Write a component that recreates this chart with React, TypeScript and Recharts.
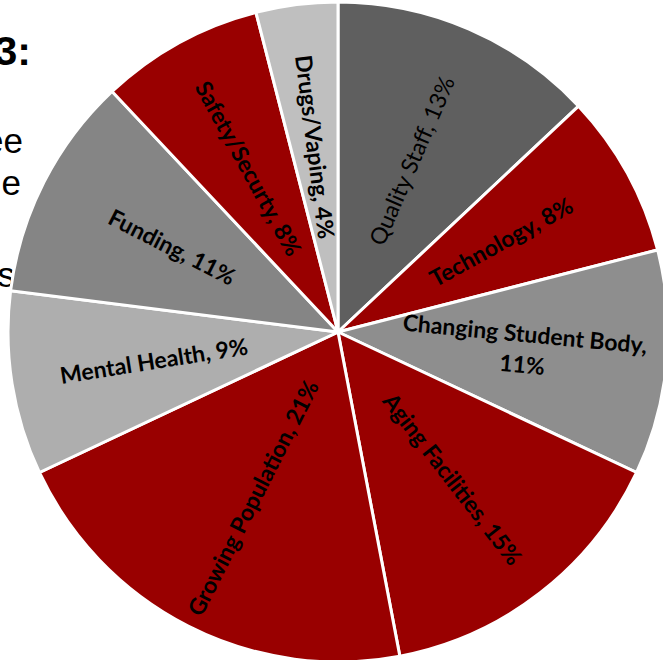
import React from "react";
import { PieChart, Pie, Cell } from "recharts";

const names = [
  "Quality Staff",
  "Technology",
  "Changing Student Body",
  "Aging Facilities",
  "Growing Population",
  "Mental Health",
  "Funding",
  "Safety/Securty",
  "Drugs/Vaping",
];
const values = [13, 8, 11, 15, 21, 9, 11, 8, 4];
const colors = ["#5f5f5f", "#990000", "#8e8e8e", "#990000", "#990000", "#aeaeae", "#858585", "#990000", "#bfbfbf"];

// fragments of slide text peeking out behind the pie
const sideText = [
  { text: "3:", bold: true },
  { text: "ee", bold: false },
  { text: "e", bold: false },
  { text: "s", bold: false },
];

const data = names.map((n, i) => ({ name: n, value: values[i] }));

const RAD = Math.PI / 180;

function renderLabel(props: any) {
  const { cx, cy, midAngle, outerRadius, index } = props;
  const r = outerRadius * 0.565;
  const x = cx + r * Math.cos(-midAngle * RAD);
  const y = cy + r * Math.sin(-midAngle * RAD);
  let rot = -midAngle;
  if (Math.cos(-midAngle * RAD) < 0) rot += 180;
  const name = names[index];
  const pct = `${values[index]}%`;
  const lines = name.length > 20 ? [`${name},`, pct] : [`${name}, ${pct}`];
  const lh = 31;
  return (
    <text
      x={x}
      y={y}
      transform={`rotate(${rot} ${x} ${y})`}
      textAnchor="middle"
      fontFamily="Lato, 'Open Sans', sans-serif"
      fontSize={23}
      fontWeight={index === 0 ? 400 : 700}
      fill="#000"
    >
      {lines.map((l, i) => (
        <tspan key={i} x={x} y={y + (i - (lines.length - 1) / 2) * lh} dy="0.35em">
          {l}
        </tspan>
      ))}
    </text>
  );
}

export default function App() {
  const sideY = [65, 153, 195, 287];
  const sideX = [31, 23, 21, 15];
  return (
    <div style={{ position: "absolute", left: 0, top: 0, width: 663, height: 660, background: "#fff", overflow: "hidden" }}>
      <svg width={663} height={660} style={{ position: "absolute", left: 0, top: 0 }}>
        {sideText.map((t, i) => (
          <text
            key={i}
            x={sideX[i]}
            y={sideY[i]}
            textAnchor="end"
            fontFamily="'Liberation Sans', Arial, sans-serif"
            fontSize={t.bold ? 41 : 35}
            fontWeight={t.bold ? 700 : 400}
            fill="#000"
          >
            {t.text}
          </text>
        ))}
      </svg>
      <div style={{ position: "absolute", left: 0, top: 0 }}>
        <PieChart width={663} height={660} margin={{ top: 0, right: 0, bottom: 0, left: 0 }}>
          <Pie
            data={data}
            dataKey="value"
            nameKey="name"
            cx={338}
            cy={332}
            outerRadius={330}
            startAngle={90}
            endAngle={-270}
            stroke="#ffffff"
            strokeWidth={3}
            label={renderLabel}
            labelLine={false}
            isAnimationActive={false}
          >
            {data.map((d, i) => (
              <Cell key={d.name} fill={colors[i]} />
            ))}
          </Pie>
        </PieChart>
      </div>
    </div>
  );
}
